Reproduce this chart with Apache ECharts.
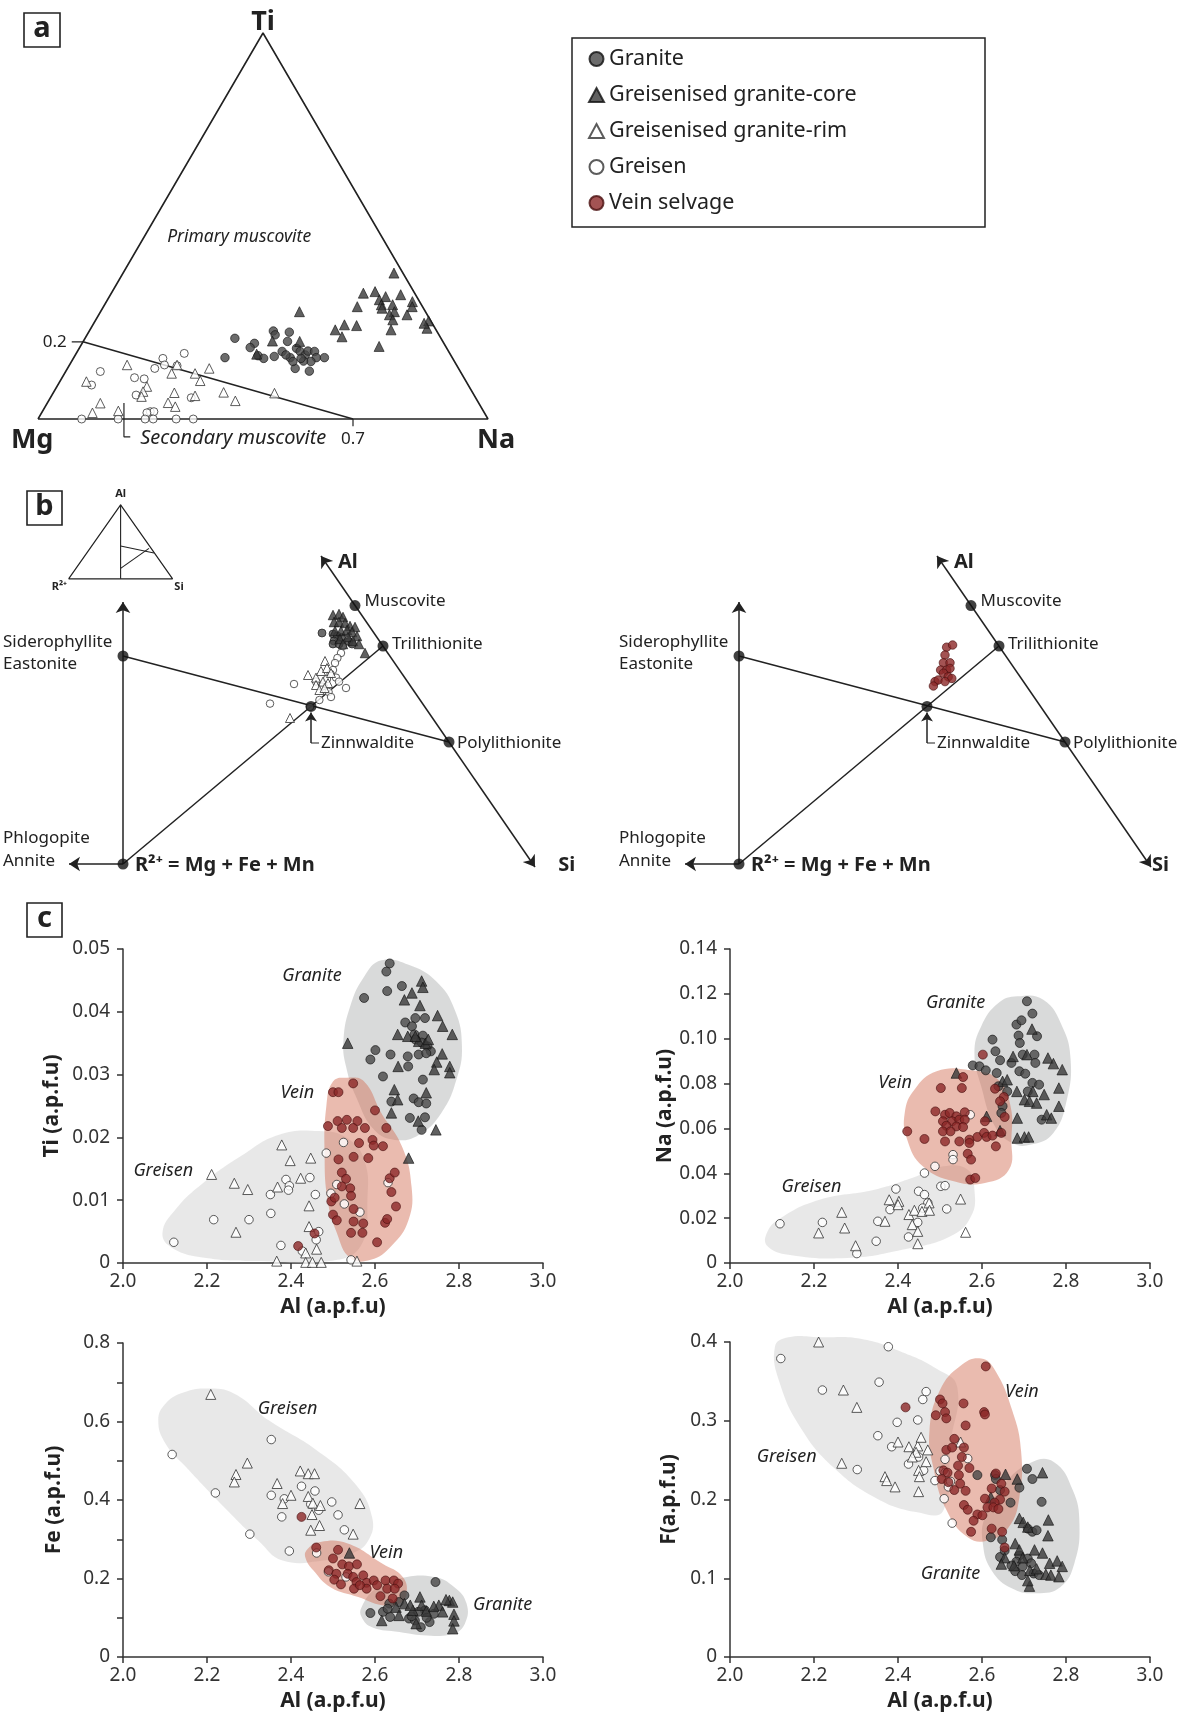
<!DOCTYPE html>
<html><head><meta charset="utf-8">
<script src="https://cdn.jsdelivr.net/npm/echarts@6/dist/echarts.min.js"></script>
<style>html,body{margin:0;padding:0;background:#fff}#c{width:1190px;height:1715px}</style>
</head><body><div id="c"></div>
<script>
// ---------- DATA ----------
const seriesNames = ['Granite','Greisenised granite-core','Greisenised granite-rim','Greisen','Vein selvage'];

// Panel a: ternary Mg-Ti-Na, values [Na, Ti] (fractions; Mg = 1 - Na - Ti)
const aGranite = [[0.333,0.209],[0.336,0.159],[0.383,0.196],[0.379,0.185],[0.407,0.164],[0.423,0.157],[0.409,0.228],[0.418,0.218],[0.446,0.225],[0.454,0.201],[0.444,0.162],[0.455,0.175],[0.481,0.159],[0.483,0.183],[0.495,0.175],[0.511,0.166],[0.512,0.176],[0.527,0.175],[0.539,0.159],[0.532,0.149],[0.515,0.150],[0.506,0.131],[0.541,0.124],[0.557,0.159],[0.492,0.149],[0.506,0.157],[0.468,0.166]];
const aCore = [[0.442,0.278],[0.602,0.378],[0.560,0.326],[0.584,0.330],[0.604,0.309],[0.614,0.317],[0.645,0.322],[0.680,0.304],[0.564,0.291],[0.615,0.296],[0.640,0.296],[0.686,0.291],[0.653,0.278],[0.646,0.270],[0.685,0.270],[0.660,0.257],[0.741,0.254],[0.747,0.235],[0.559,0.244],[0.587,0.242],[0.545,0.231],[0.569,0.213],[0.664,0.188],[0.669,0.231],[0.420,0.202],[0.481,0.201],[0.402,0.168],[0.734,0.248],[0.621,0.287]];
const aRim = [[0.128,0.140],[0.059,0.097],[0.200,0.084],[0.198,0.071],[0.118,0.041],[0.113,0.016],[0.168,0.021],[0.269,0.068],[0.268,0.042],[0.289,0.032],[0.319,0.060],[0.238,0.118],[0.239,0.140],[0.290,0.118],[0.315,0.131],[0.311,0.099],[0.378,0.069],[0.415,0.047],[0.492,0.067],[0.201,0.058]];
const aGreisen = [[0.240,0.170],[0.199,0.157],[0.194,0.131],[0.211,0.140],[0.161,0.107],[0.184,0.104],[0.077,0.123],[0.075,0.088],[0.240,0.138],[0.187,0.062],[0.240,0.019],[0.248,0.019],[0.234,0.016],[0.238,0],[0.256,0],[0.307,0],[0.345,0],[0.097,0],[0.178,0],[0.313,0.055]];
const aBoundaryTi = 0.2, aBoundaryNa = 0.7;

// Panel b: projection coordinates (R2+ at origin)
const endNames = ['R2+','Siderophyllite','Muscovite','Trilithionite','Polylithionite','Zinnwaldite'];
const endX = [0, 0, 58, 65, 81.5, 47];
const endY = [0, 52, 64.6, 54.5, 30.5, 39.4];
const bGranite = [[49.75,57.75],[52.5,57.5],[53.6,57],[52.75,55.75],[54.6,56.6],[56.5,55.6],[52.5,55],[57.25,55],[54,55]];
const bCore = [[52.5,62.25],[54,62.5],[55,61.75],[52.75,60.5],[54,60.5],[55.5,60.25],[56.75,59.5],[58,59.25],[53,58.25],[54.5,58.25],[56,58.5],[57.25,58],[58.5,57],[56.25,56.75],[57.5,55.75],[59,55],[60.5,52.75],[54.25,56.25],[55,55]];
const bRim = [[50.5,50.75],[46.25,47.25],[48.25,46.6],[49.5,48.25],[51,49],[52,47.75],[50,45.6],[51.25,45.25],[48.25,44.75],[49.1,43.5],[50.4,44],[41.75,36.5]];
const bGreisen = [[55,54.5],[54.5,52.75],[53.6,51.5],[53,50.25],[52.5,48.5],[51.9,47.5],[53.25,46.6],[54,45.6],[51,46.25],[48.25,45.6],[49.75,44.35],[51.4,43],[52,41.75],[49.1,41],[42.75,45],[55.75,44],[36.75,40.1],[46.75,39.25]];
const bVein = [[51.9,54.2],[53.4,54.75],[51.5,52.25],[51.1,50.3],[52.75,50.3],[50.4,48.5],[51.9,48.5],[52.75,48.9],[51.1,47.7],[52.3,46.8],[53.2,46.4],[49,45.6],[49.8,46],[48.6,44.5],[51.5,45.6]];

// Panel c: [Al, element] a.p.f.u.
const alTicks = ['2.0','2.2','2.4','2.6','2.8','3.0'];
const tiGranite = [[2.635,0.0477],[2.627,0.0464],[2.629,0.0433],[2.664,0.0441],[2.574,0.0422],[2.696,0.0390],[2.719,0.0390],[2.672,0.0383],[2.688,0.0377],[2.694,0.0364],[2.714,0.0362],[2.696,0.0356],[2.711,0.0351],[2.725,0.0345],[2.733,0.0337],[2.601,0.0339],[2.637,0.0332],[2.678,0.0329],[2.704,0.0332],[2.722,0.0334],[2.589,0.0324],[2.679,0.0313],[2.619,0.0297],[2.714,0.0292],[2.692,0.0262],[2.704,0.0256],[2.722,0.0254],[2.639,0.0257],[2.683,0.0231],[2.719,0.0232],[2.711,0.0212]];
const tiCore = [[2.711,0.0449],[2.714,0.0439],[2.688,0.0430],[2.670,0.0419],[2.707,0.0410],[2.749,0.0394],[2.761,0.0377],[2.784,0.0364],[2.654,0.0364],[2.678,0.0361],[2.535,0.0350],[2.704,0.0353],[2.720,0.0350],[2.760,0.0333],[2.747,0.0320],[2.778,0.0313],[2.778,0.0303],[2.741,0.0308],[2.655,0.0313],[2.646,0.0276],[2.654,0.0260],[2.639,0.0239],[2.722,0.0271],[2.703,0.0226],[2.745,0.0212],[2.680,0.0167],[2.696,0.0361],[2.727,0.0356]];
const tiRim = [[2.378,0.0188],[2.398,0.0163],[2.447,0.0167],[2.211,0.0141],[2.265,0.0127],[2.297,0.0117],[2.368,0.0121],[2.423,0.0135],[2.443,0.0091],[2.269,0.0049],[2.443,0.0058],[2.461,0.0022],[2.435,0.0016],[2.366,0.0003],[2.435,0.0001],[2.451,0.0001],[2.472,0.0001],[2.557,0.0003]];
const tiGreisen = [[2.121,0.0033],[2.216,0.0069],[2.300,0.0069],[2.352,0.0079],[2.351,0.0109],[2.388,0.0133],[2.396,0.0123],[2.394,0.0116],[2.445,0.0136],[2.458,0.0109],[2.484,0.0175],[2.525,0.0192],[2.509,0.0125],[2.495,0.0111],[2.527,0.0094],[2.564,0.0081],[2.631,0.0128],[2.376,0.0028],[2.427,0.0019],[2.466,0.0050],[2.460,0.0037],[2.543,0.0005]];
const tiVein = [[2.548,0.0286],[2.500,0.0272],[2.513,0.0272],[2.600,0.0243],[2.511,0.0226],[2.533,0.0228],[2.558,0.0226],[2.488,0.0218],[2.521,0.0215],[2.548,0.0215],[2.576,0.0215],[2.627,0.0215],[2.562,0.0191],[2.594,0.0196],[2.597,0.0187],[2.619,0.0186],[2.513,0.0165],[2.549,0.0169],[2.584,0.0167],[2.635,0.0135],[2.647,0.0144],[2.521,0.0144],[2.531,0.0134],[2.541,0.0119],[2.521,0.0122],[2.543,0.0107],[2.639,0.0113],[2.496,0.0098],[2.504,0.0104],[2.650,0.0090],[2.500,0.0077],[2.509,0.0068],[2.549,0.0086],[2.549,0.0066],[2.572,0.0063],[2.624,0.0064],[2.629,0.0070],[2.543,0.0048],[2.570,0.0048],[2.605,0.0033],[2.456,0.0047],[2.417,0.0027]];
const tiRegGreisen = [[2.094,0.0048],[2.125,0.0085],[2.190,0.0127],[2.280,0.0170],[2.370,0.0204],[2.468,0.0210],[2.533,0.0199],[2.574,0.0165],[2.582,0.0101],[2.566,0.0027],[2.492,0.0003],[2.329,0.0003],[2.198,0.0008],[2.117,0.0024]];
const tiRegGranite = [[2.615,0.0482],[2.680,0.0475],[2.745,0.0449],[2.790,0.0403],[2.807,0.0345],[2.794,0.0292],[2.758,0.0239],[2.704,0.0204],[2.647,0.0196],[2.598,0.0212],[2.558,0.0260],[2.531,0.0313],[2.525,0.0356],[2.541,0.0409],[2.574,0.0456]];
const tiRegVein = [[2.533,0.0295],[2.574,0.0289],[2.615,0.0239],[2.664,0.0186],[2.687,0.0122],[2.680,0.0069],[2.639,0.0027],[2.590,0.0005],[2.541,0.0008],[2.509,0.0048],[2.487,0.0101],[2.480,0.0175],[2.484,0.0249],[2.500,0.0289]];

const naGranite = [[2.707,0.1167],[2.720,0.1112],[2.682,0.1063],[2.694,0.1082],[2.731,0.1011],[2.687,0.1014],[2.690,0.0981],[2.625,0.0996],[2.632,0.0944],[2.643,0.0904],[2.670,0.0892],[2.697,0.0929],[2.725,0.0929],[2.727,0.0892],[2.578,0.0881],[2.594,0.0877],[2.609,0.0859],[2.635,0.0847],[2.689,0.0855],[2.703,0.0844],[2.720,0.0803],[2.736,0.0795],[2.639,0.0788],[2.660,0.0765],[2.709,0.0765],[2.649,0.0699],[2.742,0.0639],[2.646,0.0669]];
const naCore = [[2.719,0.1043],[2.707,0.0929],[2.674,0.0921],[2.757,0.0914],[2.770,0.0889],[2.791,0.0862],[2.649,0.0810],[2.660,0.0817],[2.539,0.0847],[2.683,0.0765],[2.701,0.0728],[2.721,0.0765],[2.748,0.0751],[2.783,0.0780],[2.783,0.0699],[2.713,0.0721],[2.730,0.0713],[2.754,0.0661],[2.765,0.0646],[2.684,0.0646],[2.611,0.0654],[2.643,0.0590],[2.684,0.0557],[2.701,0.0562],[2.711,0.0562]];
const naRim = [[2.266,0.0226],[2.211,0.0134],[2.273,0.0156],[2.299,0.0077],[2.379,0.0282],[2.402,0.0275],[2.400,0.0260],[2.369,0.0186],[2.426,0.0216],[2.439,0.0235],[2.434,0.0171],[2.447,0.0141],[2.447,0.0086],[2.457,0.0230],[2.474,0.0268],[2.475,0.0235],[2.549,0.0285],[2.561,0.0137]];
const naGreisen = [[2.572,0.0661],[2.531,0.0483],[2.531,0.0461],[2.488,0.0431],[2.463,0.0401],[2.395,0.0330],[2.449,0.0320],[2.463,0.0305],[2.502,0.0342],[2.512,0.0345],[2.516,0.0241],[2.471,0.0268],[2.459,0.0245],[2.381,0.0238],[2.352,0.0186],[2.220,0.0181],[2.119,0.0175],[2.348,0.0097],[2.425,0.0116],[2.302,0.0042],[2.447,0.0181]];
const naVein = [[2.602,0.0929],[2.555,0.0829],[2.502,0.0780],[2.552,0.0780],[2.631,0.0777],[2.652,0.0740],[2.643,0.0721],[2.489,0.0676],[2.512,0.0661],[2.523,0.0669],[2.539,0.0654],[2.559,0.0672],[2.507,0.0632],[2.529,0.0632],[2.546,0.0639],[2.559,0.0639],[2.515,0.0612],[2.539,0.0609],[2.555,0.0606],[2.507,0.0587],[2.525,0.0587],[2.607,0.0632],[2.654,0.0651],[2.422,0.0587],[2.463,0.0553],[2.512,0.0542],[2.546,0.0542],[2.570,0.0550],[2.589,0.0562],[2.605,0.0580],[2.611,0.0562],[2.625,0.0568],[2.633,0.0520],[2.570,0.0535],[2.566,0.0487],[2.574,0.0461],[2.572,0.0372],[2.584,0.0379],[2.646,0.0580]];
const naRegGranite = [[2.684,0.1189],[2.746,0.1174],[2.791,0.1055],[2.811,0.0907],[2.802,0.0728],[2.770,0.0580],[2.717,0.0528],[2.672,0.0535],[2.631,0.0609],[2.598,0.0788],[2.582,0.0936],[2.598,0.1055],[2.639,0.1159]];
const naRegVein = [[2.492,0.0855],[2.574,0.0859],[2.639,0.0817],[2.668,0.0699],[2.670,0.0550],[2.664,0.0416],[2.607,0.0357],[2.533,0.0364],[2.459,0.0431],[2.422,0.0550],[2.416,0.0669],[2.439,0.0773]];
const naRegGreisen = [[2.086,0.0126],[2.115,0.0193],[2.213,0.0282],[2.344,0.0327],[2.443,0.0386],[2.508,0.0431],[2.566,0.0416],[2.582,0.0327],[2.574,0.0208],[2.525,0.0119],[2.410,0.0059],[2.279,0.0022],[2.139,0.0037],[2.090,0.0074]];

const feGreisen = [[2.117,0.516],[2.220,0.418],[2.353,0.554],[2.302,0.313],[2.396,0.270],[2.353,0.412],[2.378,0.357],[2.384,0.403],[2.425,0.435],[2.457,0.423],[2.447,0.389],[2.466,0.374],[2.497,0.395],[2.512,0.362],[2.527,0.324],[2.461,0.265],[2.489,0.217],[2.531,0.204]];
const feRim = [[2.209,0.669],[2.296,0.494],[2.269,0.465],[2.265,0.446],[2.367,0.442],[2.380,0.391],[2.400,0.412],[2.422,0.474],[2.441,0.467],[2.456,0.467],[2.441,0.409],[2.452,0.392],[2.450,0.363],[2.447,0.323],[2.468,0.335],[2.564,0.391],[2.548,0.313],[2.470,0.386]];
const feVein = [[2.425,0.357],[2.460,0.279],[2.512,0.273],[2.500,0.251],[2.522,0.236],[2.538,0.231],[2.557,0.236],[2.490,0.221],[2.508,0.212],[2.503,0.197],[2.519,0.185],[2.535,0.212],[2.548,0.204],[2.556,0.191],[2.550,0.174],[2.572,0.208],[2.580,0.189],[2.580,0.174],[2.597,0.195],[2.605,0.183],[2.625,0.195],[2.645,0.195],[2.655,0.187],[2.629,0.174],[2.647,0.174],[2.613,0.155],[2.642,0.149],[2.564,0.183]];
const feGranite = [[2.744,0.191],[2.670,0.157],[2.589,0.112],[2.619,0.115],[2.636,0.102],[2.681,0.098],[2.695,0.093],[2.709,0.076],[2.687,0.104],[2.719,0.119],[2.730,0.089],[2.740,0.110],[2.723,0.100],[2.657,0.140],[2.634,0.136],[2.703,0.115],[2.630,0.123]];
const feCore = [[2.539,0.265],[2.616,0.093],[2.650,0.127],[2.657,0.106],[2.670,0.136],[2.707,0.153],[2.711,0.132],[2.722,0.117],[2.752,0.132],[2.761,0.115],[2.777,0.144],[2.785,0.140],[2.769,0.146],[2.788,0.109],[2.788,0.092],[2.785,0.072],[2.740,0.129],[2.690,0.119],[2.698,0.085],[2.684,0.132]];
const feRegGreisen = [[2.084,0.603],[2.101,0.645],[2.142,0.673],[2.199,0.684],[2.265,0.671],[2.347,0.603],[2.461,0.527],[2.552,0.442],[2.593,0.357],[2.584,0.297],[2.543,0.263],[2.478,0.246],[2.380,0.246],[2.322,0.297],[2.248,0.374],[2.150,0.484],[2.101,0.544]];
const feRegVein = [[2.437,0.272],[2.470,0.293],[2.535,0.289],[2.617,0.238],[2.666,0.204],[2.675,0.161],[2.658,0.136],[2.617,0.132],[2.560,0.153],[2.494,0.178],[2.453,0.221],[2.435,0.251]];
const feRegGranite = [[2.568,0.127],[2.601,0.174],[2.658,0.200],[2.740,0.204],[2.789,0.178],[2.818,0.136],[2.814,0.085],[2.785,0.059],[2.724,0.055],[2.658,0.064],[2.593,0.076],[2.568,0.102]];

const fGreisen = [[2.121,0.379],[2.377,0.394],[2.220,0.339],[2.355,0.349],[2.303,0.238],[2.352,0.281],[2.398,0.298],[2.447,0.301],[2.467,0.337],[2.459,0.327],[2.385,0.267],[2.425,0.245],[2.449,0.254],[2.461,0.237],[2.488,0.224],[2.500,0.236],[2.512,0.251],[2.520,0.216],[2.525,0.223],[2.510,0.201],[2.529,0.170],[2.566,0.252],[2.512,0.234]];
const fRim = [[2.211,0.400],[2.270,0.339],[2.302,0.317],[2.266,0.246],[2.400,0.273],[2.426,0.267],[2.447,0.268],[2.455,0.279],[2.443,0.260],[2.434,0.254],[2.471,0.263],[2.467,0.248],[2.449,0.237],[2.451,0.229],[2.369,0.229],[2.373,0.224],[2.393,0.216],[2.449,0.210],[2.549,0.273]];
const fVein = [[2.609,0.369],[2.418,0.317],[2.500,0.327],[2.506,0.322],[2.490,0.307],[2.512,0.311],[2.515,0.303],[2.556,0.322],[2.605,0.311],[2.607,0.308],[2.561,0.294],[2.534,0.277],[2.515,0.263],[2.529,0.266],[2.557,0.266],[2.552,0.254],[2.570,0.240],[2.543,0.243],[2.508,0.237],[2.518,0.234],[2.504,0.226],[2.520,0.222],[2.545,0.231],[2.548,0.220],[2.534,0.212],[2.561,0.211],[2.607,0.201],[2.623,0.214],[2.633,0.233],[2.646,0.220],[2.654,0.210],[2.643,0.200],[2.630,0.196],[2.613,0.190],[2.557,0.193],[2.566,0.187],[2.589,0.181],[2.601,0.180],[2.580,0.173],[2.627,0.190],[2.639,0.188],[2.623,0.163],[2.648,0.159],[2.574,0.159],[2.654,0.139]];
const fGranite = [[2.707,0.239],[2.720,0.226],[2.689,0.215],[2.742,0.197],[2.589,0.231],[2.631,0.231],[2.633,0.226],[2.643,0.212],[2.668,0.196],[2.621,0.152],[2.648,0.149],[2.643,0.127],[2.654,0.135],[2.689,0.129],[2.709,0.163],[2.720,0.159],[2.730,0.161],[2.682,0.121],[2.697,0.115],[2.709,0.125],[2.679,0.109],[2.695,0.104],[2.723,0.106],[2.736,0.104],[2.717,0.119],[2.670,0.116]];
const fCore = [[2.744,0.234],[2.684,0.226],[2.656,0.232],[2.621,0.203],[2.689,0.176],[2.698,0.171],[2.758,0.174],[2.709,0.165],[2.757,0.154],[2.679,0.144],[2.689,0.136],[2.725,0.136],[2.744,0.132],[2.654,0.126],[2.646,0.118],[2.676,0.116],[2.697,0.126],[2.714,0.110],[2.730,0.112],[2.761,0.119],[2.779,0.122],[2.791,0.115],[2.752,0.105],[2.764,0.104],[2.783,0.102],[2.713,0.090],[2.709,0.097]];
const fRegGreisen = [[2.107,0.394],[2.139,0.406],[2.213,0.406],[2.311,0.404],[2.410,0.387],[2.492,0.366],[2.541,0.343],[2.525,0.271],[2.508,0.186],[2.443,0.184],[2.344,0.203],[2.246,0.241],[2.172,0.288],[2.119,0.347]];
const fRegVein = [[2.549,0.370],[2.598,0.379],[2.631,0.364],[2.672,0.313],[2.693,0.262],[2.689,0.203],[2.664,0.165],[2.615,0.148],[2.566,0.152],[2.516,0.186],[2.484,0.241],[2.475,0.288],[2.500,0.339]];
const fRegGranite = [[2.607,0.178],[2.648,0.216],[2.713,0.246],[2.770,0.248],[2.816,0.212],[2.832,0.169],[2.820,0.119],[2.787,0.089],[2.730,0.081],[2.672,0.087],[2.623,0.110],[2.602,0.144]];

// ---------- CHART ----------
const FONT = "'Noto Sans', 'DejaVu Sans', sans-serif";
const INK = '#222';
const S3 = Math.sqrt(3) / 2;
const tern = p => [p[0] + p[1] / 2, p[1] * S3];

const STY = {
  'Granite': {symbol:'circle', itemStyle:{color:'#474747', borderColor:'#111', borderWidth:0.8}},
  'Greisenised granite-core': {symbol:'triangle', itemStyle:{color:'#383838', borderColor:'#111', borderWidth:0.8}},
  'Greisenised granite-rim': {symbol:'triangle', itemStyle:{color:'#fff', borderColor:'#333', borderWidth:1}},
  'Greisen': {symbol:'circle', itemStyle:{color:'#fff', borderColor:'#333', borderWidth:1}},
  'Vein selvage': {symbol:'circle', itemStyle:{color:'#8c2828', borderColor:'#4a1010', borderWidth:0.8}}
};
function pts(gi, name, data, size) {
  const s = STY[name];
  return {type:'scatter', name, xAxisIndex:gi, yAxisIndex:gi, data, clip:false, silent:true, z:5,
    symbol:s.symbol, symbolSize: s.symbol === 'triangle' ? size + 1.5 : size,
    itemStyle:Object.assign({}, s.itemStyle)};
}
function line(gi, data, w) {
  return {type:'line', xAxisIndex:gi, yAxisIndex:gi, data, symbol:'none', silent:true, clip:false, z:3,
    lineStyle:{color:INK, width:w || 1.5}};
}
function arrows(gi, segs, sym, size) {
  return {type:'lines', coordinateSystem:'cartesian2d', xAxisIndex:gi, yAxisIndex:gi, silent:true, z:3,
    symbol:sym, symbolSize:size || 11, lineStyle:{color:INK, width:1.5, opacity:1, curveness:0},
    data: segs.map(c => ({coords:c}))};
}
function texts(gi, items) {
  return {type:'scatter', xAxisIndex:gi, yAxisIndex:gi, symbolSize:1, silent:true, clip:false, z:8,
    itemStyle:{color:'rgba(0,0,0,0)', borderWidth:0},
    label:{show:true, position:'inside', formatter:'{b}', color:INK, fontFamily:FONT, fontSize:18, opacity:1},
    data: items.map(t => ({name:t[2], value:[t[0], t[1]], label:Object.assign({}, t[3] || {})}))};
}
function region(gi, outline, fill) {
  return {type:'custom', xAxisIndex:gi, yAxisIndex:gi, coordinateSystem:'cartesian2d', silent:true, z:1, clip:false,
    data:[outline[0]],
    renderItem: (params, api) => ({type:'polygon',
      shape:{points: outline.map(p => api.coord(p)), smooth:0.45},
      style:{fill, stroke:'none'}})};
}
const FILL_GREISEN = 'rgba(200,200,200,0.42)';
const FILL_GRANITE = 'rgba(165,168,168,0.42)';
const FILL_VEIN = 'rgba(212,112,88,0.48)';

const grids = [
  {left:38, top:33, width:450, height:386},
  {left:3, top:464, width:560, height:420},
  {left:619, top:464, width:560, height:420},
  {left:123, top:949, width:420, height:314},
  {left:730, top:949, width:420, height:314},
  {left:123, top:1343, width:420, height:314},
  {left:730, top:1342, width:420, height:315}
].map(g => Object.assign({containLabel:false, outerBoundsMode:'none'}, g));

const hidden = (gi, min, max) => ({gridIndex:gi, type:'value', min, max, show:false});
const xAxes = [hidden(0,0,1), hidden(1,-30,110), hidden(2,-30,110)];
const yAxes = [hidden(0,0,S3), hidden(1,-5,100), hidden(2,-5,100)];

const NAME_STYLE = {fontSize:21, fontWeight:'bold', color:INK, fontFamily:FONT};
function cX(gi) {
  return {gridIndex:gi, type:'value', min:2, max:3, interval:0.2,
    name:'Al (a.p.f.u)', nameLocation:'middle', nameGap:34, nameTextStyle:NAME_STYLE,
    axisLine:{show:true, onZero:false, lineStyle:{color:'#333', width:1.5}},
    axisTick:{show:true, length:6, lineStyle:{color:'#333', width:1.5}},
    axisLabel:{fontSize:19, color:'#333', fontFamily:FONT, margin:9,
      formatter: v => alTicks[Math.round((v - 2) / 0.2)] || ''},
    splitLine:{show:false}};
}
function cY(gi, max, interval, name, gap, fmt) {
  return {gridIndex:gi, type:'value', min:0, max, interval,
    name, nameLocation:'middle', nameGap:gap, nameTextStyle:NAME_STYLE,
    axisLine:{show:true, onZero:false, lineStyle:{color:'#333', width:1.5}},
    axisTick:{show:true, length:6, lineStyle:{color:'#333', width:1.5}},
    axisLabel:{fontSize:19, color:'#333', fontFamily:FONT, margin:13, formatter:fmt},
    splitLine:{show:false}};
}
const f2 = v => v === 0 ? '0' : v.toFixed(2);
const f1 = v => v === 0 ? '0' : v.toFixed(1);
const fEven = v => { const k = Math.round(v * 10); return k % 2 === 0 ? (k === 0 ? '0' : (k / 10).toFixed(1)) : ''; };
xAxes.push(cX(3), cX(4), cX(5), cX(6));
yAxes.push(cY(3, 0.05, 0.01, 'Ti (a.p.f.u)', 60, f2),
           cY(4, 0.14, 0.02, 'Na (a.p.f.u)', 53, f2),
           cY(5, 0.8, 0.1, 'Fe (a.p.f.u)', 58, fEven),
           cY(6, 0.4, 0.1, 'F(a.p.f.u)', 50, f1));

const series = [];
// ----- Panel a -----
series.push(line(0, [[0,0],[1,0],[0,1],[0,0]].map(tern), 1.6));
series.push(line(0, [[0, aBoundaryTi],[aBoundaryNa, 0]].map(tern), 1.6));
const p02 = tern([0, aBoundaryTi]);
series.push(line(0, [[p02[0] - 0.025, p02[1]], p02], 1.2));
series.push(line(0, [[aBoundaryNa, 0], [aBoundaryNa, -0.016]], 1.2));
series.push(line(0, [[0.191, 0.036], [0.191, -0.04], [0.205, -0.04]], 1.2));
series.push(pts(0, 'Greisen', aGreisen.map(tern), 8));
series.push(pts(0, 'Greisenised granite-rim', aRim.map(tern), 8));
series.push(pts(0, 'Granite', aGranite.map(tern), 8.5));
series.push(pts(0, 'Greisenised granite-core', aCore.map(tern), 8.5));
const bold26 = {fontSize:27, fontWeight:'bold'};
series.push(texts(0, [
  [0.5, 0.89, 'Ti', bold26],
  [-0.013, -0.047, 'Mg', bold26],
  [1.018, -0.047, 'Na', bold26],
  [0.064, 0.172, '0.2', {fontSize:17, align:'right'}],
  [aBoundaryNa, -0.045, '0.7', {fontSize:17}],
  [0.447, 0.408, 'Primary muscovite', {fontSize:17.5, fontStyle:'italic'}],
  [0.227, -0.044, 'Secondary muscovite', {fontSize:20, fontStyle:'italic', align:'left'}]
]));

// ----- Panel b -----
const E = i => [endX[i], endY[i]];
[1, 2].forEach(gi => {
  series.push(arrows(gi, [[E(0), [0, 65.5]], [E(0), [-13.5, 0]]], ['none', 'arrow']));
  series.push(arrows(gi, [[[49.5, 77], [103, -0.75]]], ['arrow', 'arrow']));
  series.push(arrows(gi, [[[47, 30.25], [47, 37.9]]], ['none', 'arrow'], 9));
  series.push(line(gi, [E(1), E(4)]));
  series.push(line(gi, [E(0), E(3)]));
  series.push(line(gi, [[47, 30.25], [49, 30.25]], 1.2));
  series.push({type:'scatter', xAxisIndex:gi, yAxisIndex:gi, silent:true, z:6, symbolSize:11,
    itemStyle:{color:'#111'}, data: endNames.map((n, i) => ({name:n, value:E(i)}))});
  const lab = {fontSize:17, align:'left'};
  const bb = {fontSize:20, fontWeight:'bold', align:'left'};
  series.push(texts(gi, [
    [53.75, 75.5, 'Al', bb],
    [60.4, 65.6, 'Muscovite', lab],
    [67.25, 55, 'Trilithionite', lab],
    [83.5, 30.25, 'Polylithionite', lab],
    [49.5, 30.25, 'Zinnwaldite', lab],
    [-30, 55.5, 'Siderophyllite', lab],
    [-30, 50, 'Eastonite', lab],
    [-30, 6.5, 'Phlogopite', lab],
    [-30, 0.6, 'Annite', lab],
    [3, -0.3, 'R²⁺ = Mg + Fe + Mn', bb],
    [gi === 1 ? 108.8 : 103.25, -0.3, 'Si', bb]
  ]));
});
// inset ternary (left only)
series.push(line(1, [[-13.6,71.3],[12.4,71.3],[-0.6,89.8],[-13.6,71.3]], 1.2));
series.push(line(1, [[-0.6,89.8],[-0.6,71.3]], 1.1));
series.push(line(1, [[-0.6,79.5],[7.75,77.75]], 1.1));
series.push(line(1, [[-0.6,73.9],[6.5,78.9]], 1.1));
series.push(texts(1, [
  [-0.6, 92.6, 'Al', {fontSize:11, fontWeight:'bold'}],
  [-15.9, 69.2, 'R²⁺', {fontSize:11, fontWeight:'bold'}],
  [14, 69.2, 'Si', {fontSize:11, fontWeight:'bold'}]
]));
series.push(pts(1, 'Greisen', bGreisen, 7.5));
series.push(pts(1, 'Greisenised granite-rim', bRim, 7.5));
series.push(pts(1, 'Granite', bGranite, 8));
series.push(pts(1, 'Greisenised granite-core', bCore, 8));
series.push(pts(2, 'Vein selvage', bVein, 8.5));

// ----- Panel c -----
const plots = [
  {gi:3, reg:[tiRegGreisen, tiRegGranite, tiRegVein], d:[tiGreisen, tiRim, tiGranite, tiCore, tiVein],
   lab:[[2.45,0.0458,'Granite'],[2.415,0.0271,'Vein'],[2.096,0.0146,'Greisen']]},
  {gi:4, reg:[naRegGreisen, naRegGranite, naRegVein], d:[naGreisen, naRim, naGranite, naCore, naVein],
   lab:[[2.537,0.1159,'Granite'],[2.393,0.0803,'Vein'],[2.194,0.0339,'Greisen']]},
  {gi:5, reg:[feRegGreisen, feRegGranite, feRegVein], d:[feGreisen, feRim, feGranite, feCore, feVein],
   lab:[[2.392,0.633,'Greisen'],[2.627,0.265,'Vein'],[2.904,0.134,'Granite']]},
  {gi:6, reg:[fRegGreisen, fRegGranite, fRegVein], d:[fGreisen, fRim, fGranite, fCore, fVein],
   lab:[[2.695,0.337,'Vein'],[2.135,0.254,'Greisen'],[2.525,0.105,'Granite']]}
];
plots.forEach(p => {
  series.push(region(p.gi, p.reg[0], FILL_GREISEN));
  series.push(region(p.gi, p.reg[1], FILL_GRANITE));
  series.push(region(p.gi, p.reg[2], FILL_VEIN));
  series.push(pts(p.gi, 'Greisen', p.d[0], 8.5));
  series.push(pts(p.gi, 'Greisenised granite-rim', p.d[1], 8.5));
  series.push(pts(p.gi, 'Granite', p.d[2], 9));
  series.push(pts(p.gi, 'Greisenised granite-core', p.d[3], 9));
  series.push(pts(p.gi, 'Vein selvage', p.d[4], 9));
  series.push(texts(p.gi, p.lab.map(l => [l[0], l[1], l[2], {fontSize:18, fontStyle:'italic'}])));
});

function tag(x, y, w, h, letter) {
  return {type:'group', children:[
    {type:'rect', shape:{x, y, width:w, height:h}, style:{fill:'#fff', stroke:INK, lineWidth:1.6}},
    {type:'text', style:{text:letter, x:x + w / 2, y:y + h / 2 - 1, align:'center', verticalAlign:'middle',
      textAlign:'center', textVerticalAlign:'middle', font:'bold 29px ' + FONT, fill:INK}}
  ]};
}

const chart = echarts.init(document.getElementById('c'), null, {renderer:'canvas'});
chart.setOption({
  animation:false,
  backgroundColor:'#fff',
  textStyle:{fontFamily:FONT},
  grid:grids, xAxis:xAxes, yAxis:yAxes,
  legend:{orient:'vertical', left:583, top:43, itemGap:14, itemWidth:15, itemHeight:14,
    textStyle:{fontSize:21.5, color:INK, fontFamily:FONT}, selectedMode:false,
    data: seriesNames.map(n => ({name:n, icon:STY[n].symbol}))},
  graphic:[
    tag(24, 13, 36, 34, 'a'), tag(27, 491, 35, 34, 'b'), tag(27, 903, 35, 34, 'c'),
    {type:'rect', shape:{x:572, y:38, width:413, height:189}, style:{fill:'none', stroke:INK, lineWidth:1.5}, z:-1}
  ],
  series
});
</script></body></html>
